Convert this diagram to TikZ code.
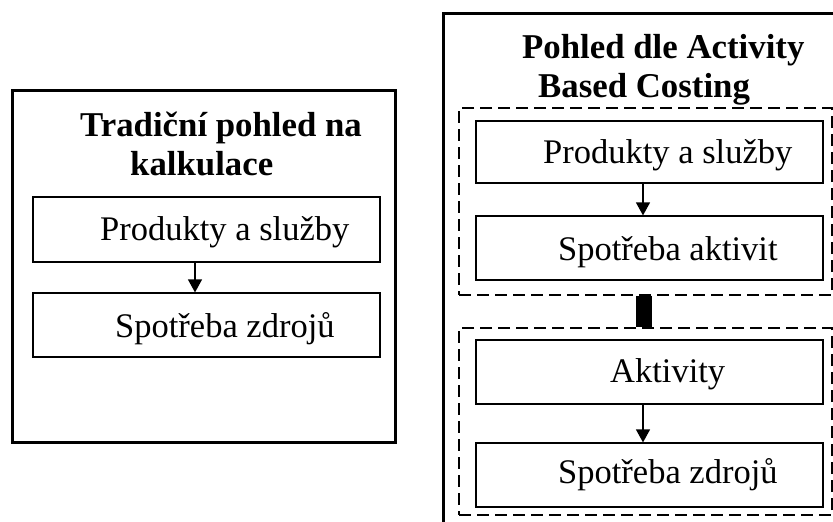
\documentclass[tikz,border=0pt]{standalone}
\usepackage{fontspec}
\setmainfont{Liberation Serif}
\usetikzlibrary{arrows.meta}
\begin{document}
\begin{tikzpicture}[x=1pt,y=-1pt,
  frame/.style={draw,line width=3pt,inner sep=0pt},
  group/.style={draw,dashed,dash pattern=on 12pt off 6pt,line width=1.2pt,inner sep=0pt},
  stepbox/.style={draw,line width=1.2pt,inner sep=0pt,minimum width=347pt},
  txt/.style={anchor=base west,inner sep=0pt,font=\fontsize{34.5}{40}\selectfont},
  ttl/.style={txt,font=\fontsize{34.8}{40}\selectfont\bfseries},
  flow/.style={line width=1.2pt,-{Triangle[length=13pt,width=14pt]}},
  link/.style={line width=16pt,line cap=butt}]
\clip (0,0) rectangle (833,522);
\fill[white] (0,0) rectangle (833,522);

% traditional costing view
\node[frame,minimum width=383pt,minimum height=352pt] (lframe) at (203.5,266) {};
\node[ttl] (lt1) at (80,136) {Tradiční pohled na};
\node[ttl] (lt2) at (130,175) {kalkulace};
\node[stepbox,minimum height=65pt] (lp) at (206.5,229.5) {};
\node[stepbox,minimum height=64pt] (lz) at (206.5,325) {};
\node[txt] (lpt) at (100,240) {Produkty a služby};
\node[txt] (lzt) at (115,337) {Spotřeba zdrojů};
\draw[flow] ([xshift=-11.5pt]lp.south) -- ([xshift=-11.5pt]lz.north);

% activity based costing view
\node[frame,minimum width=407pt,minimum height=527pt] (rframe) at (646.5,276.5) {};
\node[ttl] (rt1) at (522,58) {Pohled dle Activity};
\node[ttl] (rt2) at (538,97) {Based Costing};
\node[group,minimum width=373pt,minimum height=187pt] (g1) at (645.5,201.5) {};
\node[group,minimum width=373pt,minimum height=187pt] (g2) at (645.5,421.5) {};
\node[stepbox,minimum height=62pt] (rp) at (649.5,152) {};
\node[stepbox,minimum height=64pt] (ra) at (649.5,248) {};
\node[stepbox,minimum height=64pt] (rk) at (649.5,372) {};
\node[stepbox,minimum height=64pt] (rz) at (649.5,475) {};
\node[txt] (rpt) at (543,163) {Produkty a služby};
\node[txt] (rat) at (558,260) {Spotřeba aktivit};
\node[txt] (rkt) at (610,382) {Aktivity};
\node[txt] (rzt) at (558,483) {Spotřeba zdrojů};
\draw[flow] ([xshift=-6.5pt]rp.south) -- ([xshift=-6.5pt]ra.north);
\draw[flow] ([xshift=-6.5pt]rk.south) -- ([xshift=-6.5pt]rz.north);
\draw[link] ([xshift=-2pt]g1.south) -- ([xshift=-2pt]g2.north);
\end{tikzpicture}
\end{document}
